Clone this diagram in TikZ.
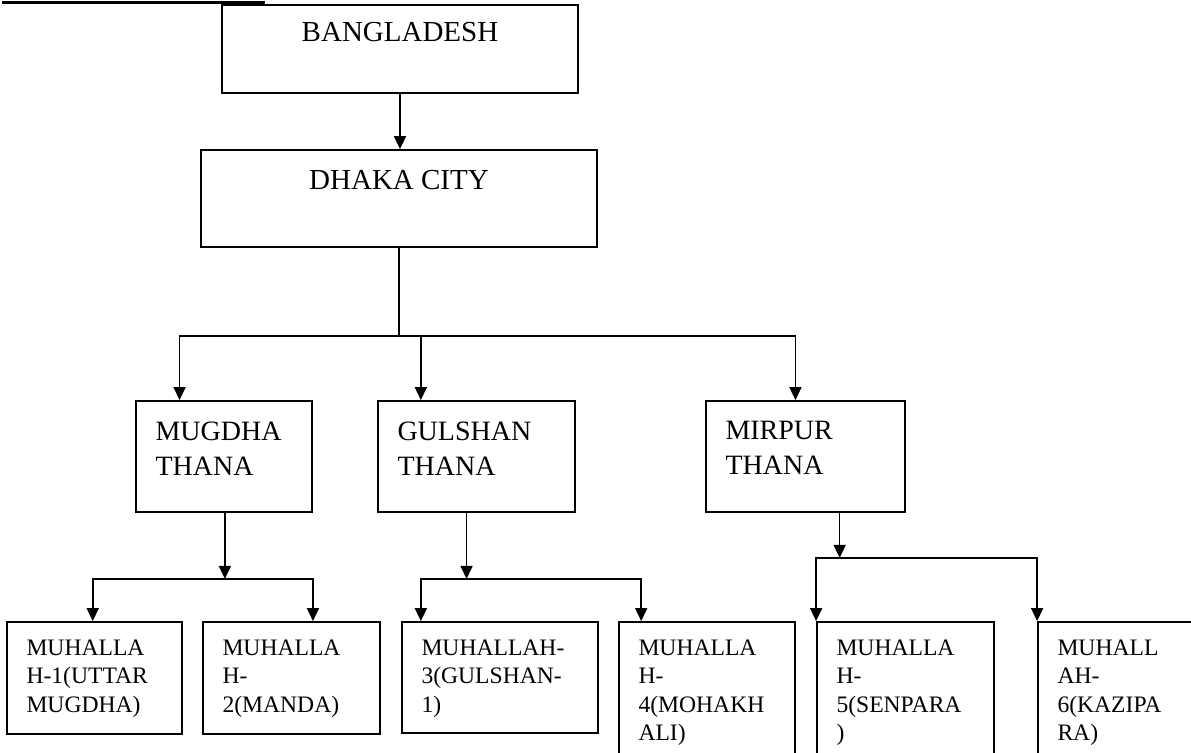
\documentclass[tikz,border=0pt]{standalone}
\usepackage{fontspec}
\setmainfont{Liberation Serif}
\usepackage{tikz}
\usetikzlibrary{arrows.meta,fit,calc,positioning}
\tikzstyle{box}=[draw,rectangle,line width=0.9pt,inner sep=0pt]
\tikzstyle{line} = [draw,line width=0.8pt]
\tikzstyle{arr} = [draw,line width=0.8pt,-{Triangle[length=6.5pt,width=6pt]}]
\tikzstyle{bigtext} = [font=\fontsize{14.5}{17}\selectfont,inner sep=0pt,anchor=north]
\tikzstyle{midtext} = [font=\fontsize{14}{17.5}\selectfont,align=left,inner sep=0pt,anchor=north west]
\tikzstyle{smalltext} = [font=\fontsize{11.8}{14.25}\selectfont,align=left,inner sep=0pt,anchor=north west]

\begin{document}
\begin{tikzpicture}[x=0.5pt, y=-0.5pt]
    \useasboundingbox (0,0) rectangle (1191,752);
    \clip (0,0) rectangle (1191,752);
    \draw[line width=1.5pt] (2,2) -- (265,2);

    % country and city
    \node[box, fit={(222,5) (578,93)}] (bang) {};
    \node[bigtext] (bang-t) at ([shift={(0,18)}]bang.north) {BANGLADESH};
    \node[box, fit={(201,150) (597,247)}] (dhaka) {};
    \node[bigtext] (dhaka-t) at ([shift={(0,21)}]dhaka.north) {DHAKA CITY};

    % thanas
    \foreach \name/\xa/\xb/\txt in {mugdha/136/312/{MUGDHA\\THANA},
    gulshan/378/575/{GULSHAN\\THANA}, mirpur/706/905/{MIRPUR\\THANA}}
    {
        \node[box, fit={(\xa,401) (\xb,512)}] (\name) {};
        \node[midtext] (\name-t) at ([shift={(20,21)}]\name.north west) {\txt};
    }

    % muhallahs
    \foreach \name/\xa/\xb/\yb/\txt in {m1/7/182/734/{MUHALLA\\H-1(UTTAR\\MUGDHA)},
    m2/203/380/734/{MUHALLA\\H-\\2(MANDA)}, m3/402/598/733/{MUHALLAH-\\3(GULSHAN-\\1)},
    m4/619/795/770/{MUHALLA\\H-\\4(MOHAKH\\ALI)}, m5/817/994/770/{MUHALLA\\H-\\5(SENPARA\\)},
    m6/1038/1210/770/{MUHALL\\AH-\\6(KAZIPA\\RA)}}
    {
        \node[box, fit={(\xa,622) (\xb,\yb)}] (\name) {};
        \node[smalltext] (\name-t) at ([shift={(20,18)}]\name.north west) {\txt};
    }

    \draw[arr] (bang.south) -- (bang.south |- dhaka.north);

    \coordinate (citysplit) at ($(dhaka.south)+(0,88)$);
    \path[line] (dhaka.south) -- (citysplit);
    \foreach \dest/\pos in {mugdha/0.25, gulshan/0.22, mirpur/0.45}
        \path[arr] (citysplit) -| ($(\dest.north west)!\pos!(\dest.north east)$);

    \coordinate (mugdhaout) at ($(mugdha.south west)!0.505!(mugdha.south east)$);
    \coordinate (gulshanout) at ($(gulshan.south west)!0.45!(gulshan.south east)$);
    \coordinate (mirpurout) at ($(mirpur.south west)!0.67!(mirpur.south east)$);
    \coordinate (mugdhasplit) at ($(mugdhaout)+(0,66)$);
    \coordinate (gulshansplit) at ($(gulshanout)+(0,66)$);
    \coordinate (mirpursplit) at ($(mirpurout)+(0,45)$);
    \foreach \src in {mugdha, gulshan, mirpur}
        \path[arr] (\src out) -- (\src split);

    \foreach \src/\dest/\pos in {mugdha/m1/0.49, mugdha/m2/0.62, gulshan/m3/0.10,
    gulshan/m4/0.13, mirpur/m5/0, mirpur/m6/0}
        \path[arr] (\src split) -| ($(\dest.north west)!\pos!(\dest.north east)$);
\end{tikzpicture}
\end{document}
